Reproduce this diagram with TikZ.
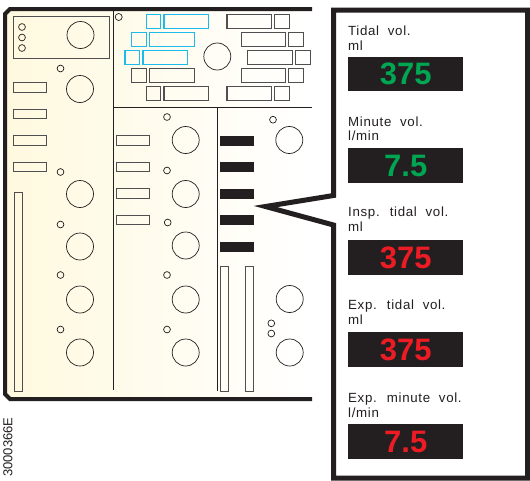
\documentclass[tikz,border=0pt]{standalone}
\usepackage{fontspec}
\setmainfont{Liberation Sans}
\newfontfamily\lblfont[LetterSpace=5,WordSpace=2]{Liberation Sans}
\usepackage{xcolor}
\definecolor{inkblack}{HTML}{231F20}
\definecolor{boxgray}{HTML}{4F4F51}
\definecolor{panelblue}{HTML}{1CBBEB}
\definecolor{panelcream}{HTML}{FFF9DF}
\definecolor{readgreen}{HTML}{00A651}
\definecolor{readred}{HTML}{ED1C24}
\begin{document}
\begin{tikzpicture}[
  x=1pt,y=-1pt,
  knob/.style={draw=inkblack,circle,line width=0.7pt,minimum size=27pt,inner sep=0pt,outer sep=0pt},
  dot/.style={draw=inkblack,circle,line width=0.7pt,minimum size=6.8pt,inner sep=0pt,outer sep=0pt},
  slot/.style={draw=boxgray,line width=1pt,minimum width=33pt,minimum height=9.5pt,inner sep=0pt,outer sep=0pt},
  blackslot/.style={fill=inkblack,minimum width=34pt,minimum height=10pt,inner sep=0pt,outer sep=0pt},
  bar/.style={draw=boxgray,line width=1pt,minimum width=8pt,inner sep=0pt,outer sep=0pt},
  wide/.style={draw=boxgray,line width=1.2pt,minimum width=44.5pt,minimum height=14pt,inner sep=0pt,outer sep=0pt},
  square/.style={draw=boxgray,line width=1.2pt,minimum width=14.7pt,minimum height=14pt,inner sep=0pt,outer sep=0pt},
  bluewide/.style={wide,draw=panelblue},
  bluesquare/.style={square,draw=panelblue},
  display/.style={fill=inkblack,minimum width=115.5pt,minimum height=34.3pt,inner sep=0pt,outer sep=0pt,
                  font=\bfseries\fontsize{31}{31}\selectfont},
  lbl/.style={anchor=base west,inner sep=0pt,text=inkblack,font=\lblfont\fontsize{13.3}{15}\selectfont}]
\useasboundingbox (0,0) rectangle (530,480);
% panel
\shade[left color=panelcream,right color=white] (5,9) rectangle (312,399);
\draw[inkblack,line width=4pt] (312,9)--(10,9)--(5,14)--(5,394)--(10,399)--(312,399);
\draw[inkblack,line width=0.7pt] (113.3,11)--(113.3,390);
\draw[inkblack,line width=0.7pt] (113.3,107)--(312,107);
\draw[inkblack,line width=0.7pt] (217.6,107)--(217.6,391);
% top left box
\draw[boxgray,line width=1pt] (13.5,16.3) rectangle (109,58);
\node[dot]  (d1) at (22,27)   {};
\node[dot]  (d2) at (22,37.5) {};
\node[dot]  (d3) at (22,48)   {};
\node[knob] (k1) at (80.5,35) {};
% left column
\node[dot]  (d4) at (60.5,68.5)  {};
\node[knob] (k2) at (80,89)      {};
\node[slot] (s1) at (29.5,87.3)  {};
\node[slot] (s2) at (29.5,113.8) {};
\node[slot] (s3) at (29.5,140.3) {};
\node[slot] (s4) at (29.5,167)   {};
\node[dot]  (d5) at (60.5,172)   {};
\node[knob] (k3) at (80,194)     {};
\node[bar,minimum height=199pt] (b1) at (18.2,292) {};
\node[dot]  (d6) at (60.5,224.5) {};
\node[knob] (k4) at (80,246.5)   {};
\node[dot]  (d7) at (60.5,275)   {};
\node[knob] (k5) at (80,299.5)   {};
\node[dot]  (d8) at (60.5,329.5) {};
\node[knob] (k6) at (80,352.5)   {};
% top middle panel
\node[dot,minimum size=7pt] (d9) at (118.7,17) {};
\node[knob] (k7) at (217.3,56.5) {};
\node[bluesquare] (q1)  at (153.5,21.8)  {};
\node[bluewide]   (w1)  at (186.3,21.8)  {};
\node[bluesquare] (q2)  at (139.2,39.7)  {};
\node[bluewide]   (w2)  at (171.9,39.7)  {};
\node[bluesquare] (q3)  at (132.4,57.3)  {};
\node[bluewide]   (w3)  at (165.2,57.3)  {};
\node[square]     (q4)  at (139.2,75.3)  {};
\node[wide]       (w4)  at (171.9,75.3)  {};
\node[square]     (q5)  at (153.5,93.3)  {};
\node[wide]       (w5)  at (186.3,93.3)  {};
\node[wide]       (w6)  at (249.2,21.8)  {};
\node[square]     (q6)  at (282,21.8)    {};
\node[wide]       (w7)  at (263.5,39.7)  {};
\node[square]     (q7)  at (296.2,39.7)  {};
\node[wide]       (w8)  at (270,57.3)    {};
\node[square]     (q8)  at (303,57.3)    {};
\node[wide]       (w9)  at (263.5,75.3)  {};
\node[square]     (q9)  at (296.2,75.3)  {};
\node[wide]       (w10) at (249.2,93.3)  {};
\node[square]     (q10) at (282,93.3)    {};
% middle column
\node[dot]  (d10) at (167,117)     {};
\node[knob] (k8)  at (185.7,140)   {};
\node[slot] (s5)  at (133,140.5)   {};
\node[slot] (s6)  at (133,167)     {};
\node[slot] (s7)  at (133,193.7)   {};
\node[slot] (s8)  at (133,220.2)   {};
\node[dot]  (d11) at (167,170.5)   {};
\node[knob] (k9)  at (185.7,194)   {};
\node[dot]  (d12) at (167.7,222.5) {};
\node[knob] (k10) at (185.7,245.5) {};
\node[dot]  (d13) at (167,275)     {};
\node[knob] (k11) at (185.7,299.5) {};
\node[dot]  (d14) at (167,329.5)   {};
\node[knob] (k12) at (185.7,352.5) {};
% right column
\node[blackslot] (r1) at (237.2,140.5) {};
\node[blackslot] (r2) at (237.2,167)   {};
\node[blackslot] (r3) at (237.2,193.5) {};
\node[blackslot] (r4) at (237.2,220)   {};
\node[blackslot] (r5) at (237.2,246.5) {};
\node[dot]  (d15) at (273,119.7)   {};
\node[knob] (k13) at (289.3,140)   {};
\node[bar,minimum height=125.5pt] (b2) at (224.7,329.2) {};
\node[bar,minimum height=125.5pt] (b3) at (249.8,329.2) {};
\node[knob] (k14) at (289.7,299)   {};
\node[knob] (k15) at (289.7,352.5) {};
\node[dot]  (d16) at (271.3,323.3) {};
\node[dot]  (d17) at (271.3,333.5) {};
% callout
\draw[inkblack,fill=white,line width=5pt] (333.5,10)--(527.5,10)--(527.5,478)--(333.5,478)
  --(333.5,225)--(265.5,206.5)--(333.5,195.5)--cycle;
% readouts
\node[display,text=readgreen] (v1) at (405.7,74.3)  {375};
\node[display,text=readgreen] (v2) at (405.7,165.5) {7.5};
\node[display,text=readred]   (v3) at (405.7,257.5) {375};
\node[display,text=readred]   (v4) at (405.7,349.5) {375};
\node[display,text=readred]   (v5) at (405.7,441.5) {7.5};
\node[lbl] (t1a) at (348,35)    {Tidal vol.};
\node[lbl] (t1b) at (348,50)    {ml};
\node[lbl] (t2a) at (348,126)   {Minute vol.};
\node[lbl] (t2b) at (348,140)   {l/min};
\node[lbl] (t3a) at (348,216.7) {Insp. tidal vol.};
\node[lbl] (t3b) at (348,231.7) {ml};
\node[lbl] (t4a) at (348,309)   {Exp. tidal vol.};
\node[lbl] (t4b) at (348,324)   {ml};
\node[lbl] (t5a) at (348,402.3) {Exp. minute vol.};
\node[lbl] (t5b) at (348,417.3) {l/min};
\node[anchor=base west,rotate=90,inner sep=0pt,text=inkblack,font=\fontsize{13}{13}\selectfont] (code) at (12.5,477) {3000366E};
\end{tikzpicture}
\end{document}
